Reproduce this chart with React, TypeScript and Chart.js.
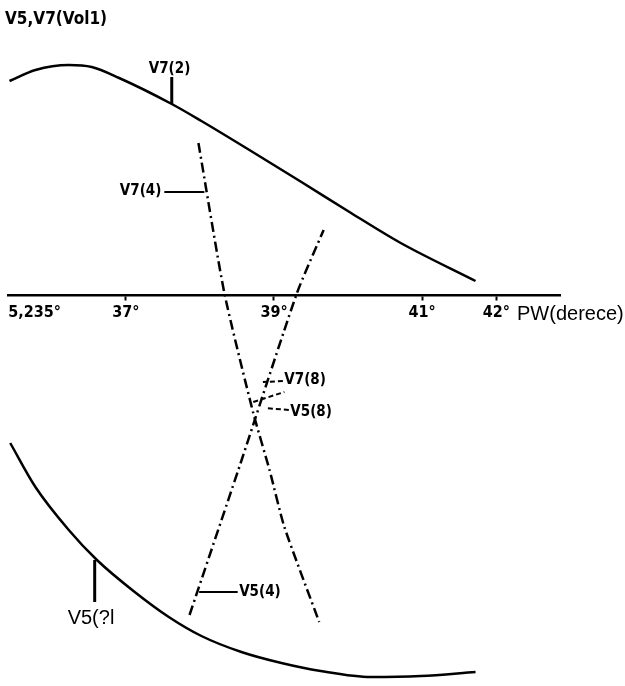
import { useEffect, useRef } from "react";
import { Chart, registerables } from "chart.js";

Chart.register(...registerables);

// PW axis (degrees) tick positions and their printed labels
const pwTicks = [35.77, 37, 39, 41, 42];
const pwTickLabels = ["5,235°", "37°", "39°", "41°", "42°"];

// V7 at 2 — solid upper curve
const v7n2Pw = [35.43, 35.78, 36.23, 36.54, 36.91, 37.62, 38.02, 38.69, 39.37, 40.04, 40.71, 41.72];
const v7n2Vol = [2.14, 2.25, 2.3, 2.28, 2.17, 1.91, 1.74, 1.44, 1.13, 0.82, 0.52, 0.14];

// V5 at 2 — solid lower curve
const v5n2Pw = [35.44, 35.78, 36.23, 36.61, 37.12, 37.58, 38.02, 38.56, 39.1, 39.63, 40.31, 40.98, 41.72];
const v5n2Vol = [-1.48, -1.92, -2.35, -2.65, -2.97, -3.22, -3.41, -3.57, -3.68, -3.76, -3.82, -3.81, -3.77];

// V7 at 4 — dash-dot line falling to the right
const v7n4Pw = [37.98, 38.33, 38.72, 38.94, 39.14, 39.61];
const v7n4Vol = [1.52, 0.02, -1.18, -1.75, -2.32, -3.27];

// V5 at 4 — dash-dot line rising to the right
const v5n4Pw = [37.86, 38.55, 39.31, 39.67];
const v5n4Vol = [-3.2, -1.68, 0.02, 0.65];

// PW axis extent and vertical range (Vol)
const pwRange = [35.41, 42.86];
const volRange = [-3.91, 2.95];

const toPoints = (xs: number[], ys: number[]) => xs.map((x, i) => ({ x, y: ys[i] }));

const handFont = "'DejaVu Sans Condensed', 'DejaVu Sans', sans-serif";
const plainFont = "'Liberation Sans', Arial, sans-serif";

type Note = { text: string; pw: number; vol: number; align: CanvasTextAlign; font: string };
type Leader = { from: [number, number]; to: [number, number]; width: number; dash: number[] };

const notes: Note[] = [
  { text: "V5,V7(Vol1)", pw: 35.37, vol: 2.75, align: "left", font: `bold 17px ${handFont}` },
  { text: "V7(2)", pw: 37.59, vol: 2.26, align: "center", font: `bold 15px ${handFont}` },
  { text: "V7(4)", pw: 37.48, vol: 1.04, align: "right", font: `bold 15px ${handFont}` },
  { text: "V5(4)", pw: 38.53, vol: -2.97, align: "left", font: `bold 15px ${handFont}` },
  { text: "V7(8)", pw: 39.14, vol: -0.85, align: "left", font: `bold 15px ${handFont}` },
  { text: "V5(8)", pw: 39.22, vol: -1.17, align: "left", font: `bold 15px ${handFont}` },
  { text: "V5(?l", pw: 36.53, vol: -3.23, align: "center", font: `20px ${plainFont}` },
  { text: "PW(derece)", pw: 42.28, vol: -0.19, align: "left", font: `20px ${plainFont}` },
];

const leaders: Leader[] = [
  { from: [37.62, 2.18], to: [37.62, 1.91], width: 3, dash: [] },
  { from: [37.52, 1.03], to: [38.06, 1.03], width: 2, dash: [] },
  { from: [37.99, -2.97], to: [38.51, -2.97], width: 2, dash: [] },
  { from: [39.12, -0.86], to: [38.85, -0.87], width: 2, dash: [5, 3] },
  { from: [39.2, -1.15], to: [38.88, -1.13], width: 2, dash: [5, 3] },
  { from: [38.72, -1.07], to: [39.14, -0.97], width: 2, dash: [5, 3] },
  { from: [36.58, -2.65], to: [36.58, -3.07], width: 3, dash: [] },
];

const notesPlugin = {
  id: "pwNotes",
  afterDraw(chart: any) {
    const { ctx, scales } = chart;
    const sx = scales.x;
    const sy = scales.y;
    ctx.save();
    ctx.strokeStyle = "#000";
    ctx.fillStyle = "#000";
    ctx.lineCap = "butt";
    for (const l of leaders) {
      ctx.beginPath();
      ctx.setLineDash(l.dash);
      ctx.lineWidth = l.width;
      ctx.moveTo(sx.getPixelForValue(l.from[0]), sy.getPixelForValue(l.from[1]));
      ctx.lineTo(sx.getPixelForValue(l.to[0]), sy.getPixelForValue(l.to[1]));
      ctx.stroke();
    }
    ctx.setLineDash([]);
    ctx.textBaseline = "middle";
    for (const n of notes) {
      ctx.font = n.font;
      ctx.textAlign = n.align;
      ctx.fillText(n.text, sx.getPixelForValue(n.pw), sy.getPixelForValue(n.vol));
    }
    ctx.restore();
  },
};

export default function App() {
  const canvasRef = useRef<HTMLCanvasElement | null>(null);

  useEffect(() => {
    if (!canvasRef.current) return;
    const solid = {
      borderColor: "#000",
      borderWidth: 2.5,
      pointRadius: 0,
      cubicInterpolationMode: "monotone",
      fill: false,
    };
    const dashDot = {
      borderColor: "#000",
      borderWidth: 2.5,
      pointRadius: 0,
      tension: 0.2,
      fill: false,
      borderDash: [10, 4, 2, 4],
    };
    const chart = new Chart(canvasRef.current, {
      type: "line",
      data: {
        datasets: [
          { label: "V7(2)", data: toPoints(v7n2Pw, v7n2Vol), ...solid },
          { label: "V5(2)", data: toPoints(v5n2Pw, v5n2Vol), ...solid },
          { label: "V7(4)", data: toPoints(v7n4Pw, v7n4Vol), ...dashDot },
          { label: "V5(4)", data: toPoints(v5n4Pw, v5n4Vol), ...dashDot },
        ],
      },
      options: {
        responsive: false,
        animation: false,
        layout: { padding: { left: 8, right: 65, top: 0, bottom: 0 } },
        plugins: { legend: { display: false }, tooltip: { enabled: false }, title: { display: false } },
        scales: {
          x: {
            type: "linear",
            min: pwRange[0],
            max: pwRange[1],
            position: { y: 0 },
            grid: {
              display: true,
              drawOnChartArea: false,
              drawTicks: true,
              tickLength: 4,
              tickWidth: 2,
              tickColor: (c: any) => (c.tick && c.tick.value === pwTicks[0] ? "rgba(0,0,0,0)" : "#000"),
            },
            border: { display: true, color: "#000", width: 2.5 },
            afterBuildTicks: (scale: any) => {
              scale.ticks = pwTicks.map((value) => ({ value }));
            },
            ticks: {
              autoSkip: false,
              maxRotation: 0,
              padding: 4,
              color: "#000",
              font: { family: handFont, size: 16, weight: "bold" },
              callback: (value: any) => pwTickLabels[pwTicks.indexOf(Number(value))] ?? "",
            },
          },
          y: {
            type: "linear",
            min: volRange[0],
            max: volRange[1],
            display: false,
          },
        },
      } as any,
      plugins: [notesPlugin],
    });
    return () => chart.destroy();
  }, []);

  return (
    <div style={{ position: "absolute", left: 0, top: 0, width: 625, height: 686, background: "#fff" }}>
      <canvas ref={canvasRef} width={625} height={686} style={{ display: "block" }} />
    </div>
  );
}
